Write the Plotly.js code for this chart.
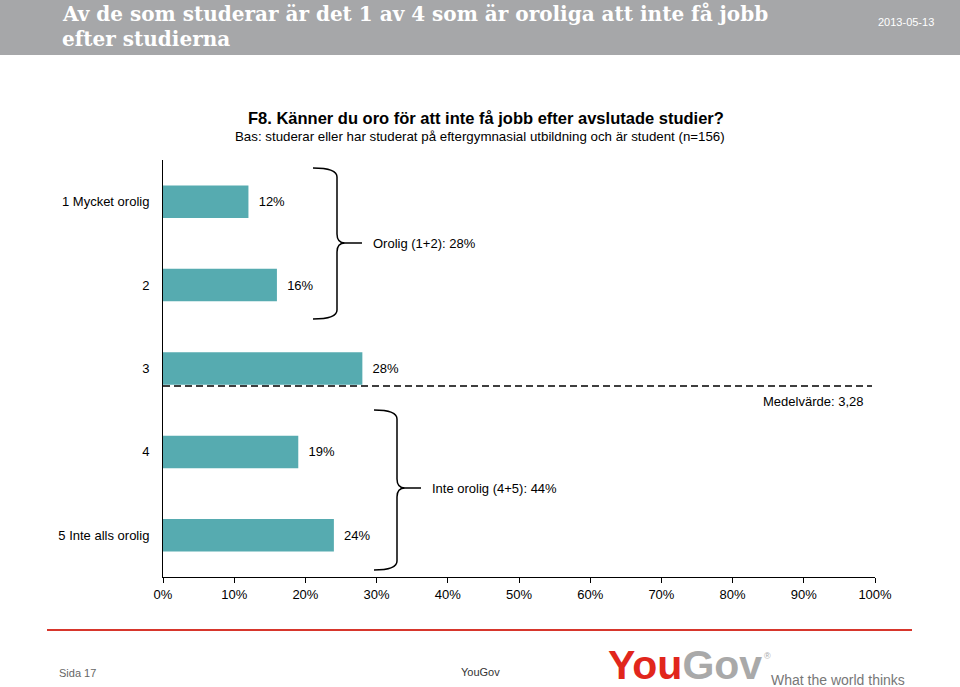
<!DOCTYPE html>
<html><head><meta charset="utf-8">
<script src="https://cdn.plot.ly/plotly-3.0.1.min.js"></script>
<style>body{margin:0;padding:0;background:#fff}#chart{width:960px;height:687px}</style>
</head><body><div id="chart"></div>
<script>
// ---- data ----
const categories = ["1 Mycket orolig", "2", "3", "4", "5 Inte alls orolig"];
const values = [12, 16, 28, 19, 24];
const valueLabels = ["12%", "16%", "28%", "19%", "24%"];
const xTickVals = [0,10,20,30,40,50,60,70,80,90,100];
const xTickText = ["0%","10%","20%","30%","40%","50%","60%","70%","80%","90%","100%"];
const meanValue = 3.28;
const meanLabel = "Medelvärde: 3,28";
const groupTop = "Orolig (1+2): 28%";
const groupBottom = "Inte orolig (4+5): 44%";
const mainTitle1 = "Av de som studerar är det 1 av 4 som är oroliga att inte få jobb";
const mainTitle2 = "efter studierna";
const dateText = "2013-05-13";
const chartTitle = "F8. Känner du oro för att inte få jobb efter avslutade studier?";
const subTitle = "Bas: studerar eller har studerat på eftergymnasial utbildning och är student (n=156)";

// ---- layout geometry ----
const W = 960, H = 687;
const L = 163, R = 875, T = 160, B = 577;
const px = x => (x - L) / (R - L);
const py = y => 1 - (y - T) / (B - T);
const font = "Liberation Sans, Arial, sans-serif";
const serif = "DejaVu Serif, Liberation Serif, serif";

function brace(xL, xV, xTip, xEnd, yTop, yMid, yBot) {
  const p = (x, y) => px(x).toFixed(5) + "," + py(y).toFixed(5);
  return "M" + p(xL, yTop) + " Q" + p(xV, yTop) + " " + p(xV, yTop + 9) +
    " L" + p(xV, yMid - 9) + " Q" + p(xV, yMid) + " " + p(xTip, yMid) +
    " L" + p(xEnd, yMid) +
    " M" + p(xTip, yMid) + " Q" + p(xV, yMid) + " " + p(xV, yMid + 9) +
    " L" + p(xV, yBot - 9) + " Q" + p(xV, yBot) + " " + p(xL, yBot);
}

const trace = {
  type: "bar", orientation: "h",
  x: values, y: categories,
  text: valueLabels, texttemplate: "  %{text}", textposition: "outside", cliponaxis: false,
  textfont: {family: font, size: 13, color: "#000"},
  marker: {color: "#56abb0"},
  width: 0.39, hoverinfo: "skip"
};

const shapes = [
  {type: "rect", xref: "paper", yref: "paper", x0: px(0), x1: px(W), y0: py(0), y1: py(55),
   fillcolor: "#a6a7a9", line: {width: 0}, layer: "below"},
  {type: "line", xref: "paper", yref: "paper", x0: 0, x1: px(872), y0: py(386), y1: py(386),
   line: {color: "#000", width: 1.5, dash: "7px,4px"}},
  {type: "path", xref: "paper", yref: "paper", path: brace(313, 337, 345, 362, 168, 243, 319),
   line: {color: "#000", width: 1.5}},
  {type: "path", xref: "paper", yref: "paper", path: brace(374, 397, 405, 421, 410, 488, 570),
   line: {color: "#000", width: 1.5}},
  {type: "line", xref: "paper", yref: "paper", x0: px(47), x1: px(912), y0: py(630), y1: py(630),
   line: {color: "#d7362c", width: 2}}
];

const annotations = [
  {xref: "paper", yref: "paper", x: px(60), y: py(14), xanchor: "left", yanchor: "middle", align: "left",
   text: "<b>" + mainTitle1 + "</b>", showarrow: false, font: {family: serif, size: 20, color: "#fff"}},
  {xref: "paper", yref: "paper", x: px(60), y: py(39), xanchor: "left", yanchor: "middle", align: "left",
   text: "<b>" + mainTitle2 + "</b>", showarrow: false, font: {family: serif, size: 20, color: "#fff"}},
  {xref: "paper", yref: "paper", x: px(936), y: py(22), xanchor: "right", yanchor: "middle",
   text: dateText, showarrow: false, font: {family: font, size: 11, color: "#fff"}},
  {xref: "paper", yref: "paper", x: px(486), y: py(118), xanchor: "center", yanchor: "middle",
   text: "<b>" + chartTitle + "</b>", showarrow: false, font: {family: font, size: 16.5, color: "#000"}},
  {xref: "paper", yref: "paper", x: px(480), y: py(137), xanchor: "center", yanchor: "middle",
   text: subTitle, showarrow: false, font: {family: font, size: 13.3, color: "#000"}},
  {xref: "paper", yref: "paper", x: px(371), y: py(243), xanchor: "left", yanchor: "middle",
   text: groupTop, showarrow: false, font: {family: font, size: 13, color: "#000"}},
  {xref: "paper", yref: "paper", x: px(430), y: py(488), xanchor: "left", yanchor: "middle",
   text: groupBottom, showarrow: false, font: {family: font, size: 13, color: "#000"}},
  {xref: "paper", yref: "paper", x: px(865), y: py(401), xanchor: "right", yanchor: "middle",
   text: meanLabel, showarrow: false, font: {family: font, size: 13, color: "#000"}},
  {xref: "paper", yref: "paper", x: px(57), y: py(673), xanchor: "left", yanchor: "middle",
   text: "Sida 17", showarrow: false, font: {family: font, size: 11, color: "#666"}},
  {xref: "paper", yref: "paper", x: px(480), y: py(672), xanchor: "center", yanchor: "middle",
   text: "YouGov", showarrow: false, font: {family: font, size: 11, color: "#333"}},
  {xref: "paper", yref: "paper", x: px(606), y: py(665), xanchor: "left", yanchor: "middle",
   text: '<b><span style="color:#e1261c">You</span><span style="color:#a9a9a9">Gov</span></b>',
   showarrow: false, font: {family: font, size: 41, color: "#e1261c"}},
  {xref: "paper", yref: "paper", x: px(767), y: py(656), xanchor: "center", yanchor: "middle",
   text: "®", showarrow: false, font: {family: font, size: 9, color: "#aaa"}},
  {xref: "paper", yref: "paper", x: px(769), y: py(680), xanchor: "left", yanchor: "middle",
   text: "What the world thinks", showarrow: false, font: {family: font, size: 14, color: "#777"}}
];

const layout = {
  width: W, height: H,
  margin: {l: L, r: W - R, t: T, b: H - B, pad: 0},
  paper_bgcolor: "#fff", plot_bgcolor: "#fff",
  showlegend: false,
  xaxis: {range: [0, 100], tickmode: "array", tickvals: xTickVals, ticktext: xTickText,
    showgrid: false, zeroline: false,
    showline: true, linecolor: "#000", linewidth: 1, ticks: "outside", ticklen: 5, tickcolor: "#000",
    tickfont: {family: font, size: 13, color: "#000"}, fixedrange: true},
  yaxis: {type: "category", autorange: "reversed", showgrid: false, zeroline: false,
    showline: true, linecolor: "#000", linewidth: 1, ticks: "", ticklabelstandoff: 10,
    tickfont: {family: font, size: 13, color: "#000"}, fixedrange: true},
  shapes: shapes, annotations: annotations
};

Plotly.newPlot("chart", [trace], layout, {displayModeBar: false, staticPlot: true});
</script></body></html>
